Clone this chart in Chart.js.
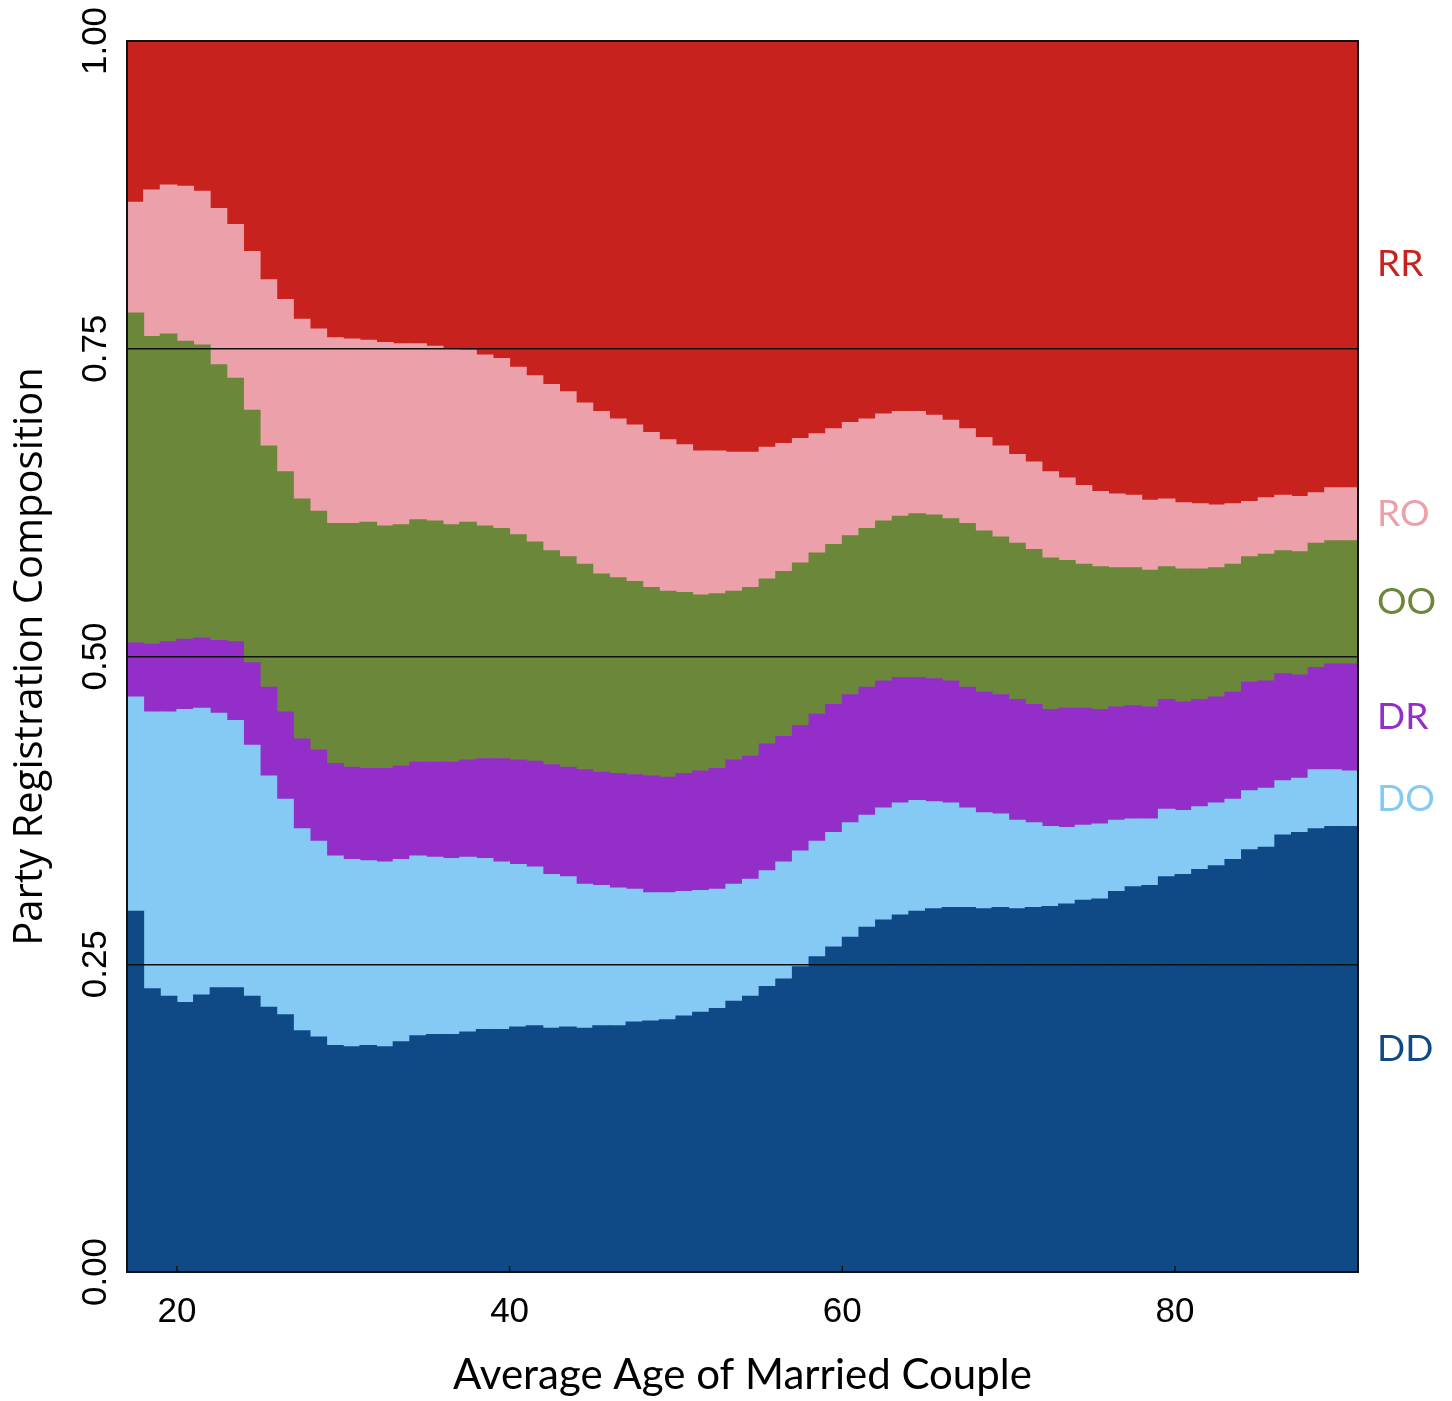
<!DOCTYPE html>
<html>
<head>
<meta charset="utf-8">
<script src="https://cdn.jsdelivr.net/npm/chart.js@4.4.1/dist/chart.umd.min.js"></script>
<style>
    html, body { margin: 0; padding: 0; background: #ffffff; }
    #wrap { width: 1452px; height: 1401px; }
</style>
</head>
<body>
<div id="wrap"><canvas id="compChart" width="1452" height="1401"></canvas></div>
<script>
// Party registration composition of married couples by average age

const ages = [
    17, 18, 19, 20, 21, 22, 23, 24, 25, 26, 27, 28, 29, 30, 31, 32, 33, 34, 35, 36,
    37, 38, 39, 40, 41, 42, 43, 44, 45, 46, 47, 48, 49, 50, 51, 52, 53, 54, 55, 56,
    57, 58, 59, 60, 61, 62, 63, 64, 65, 66, 67, 68, 69, 70, 71, 72, 73, 74, 75, 76,
    77, 78, 79, 80, 81, 82, 83, 84, 85, 86, 87, 88, 89, 90
];

const ddShare = [
    .293, .230, .224, .219, .225, .231, .231, .224, .215, .209,
    .196, .191, .184, .183, .184, .183, .187, .192, .193, .193,
    .195, .197, .197, .199, .200, .198, .199, .198, .200, .200,
    .203, .204, .205, .208, .211, .214, .220, .224, .232, .238,
    .248, .256, .264, .272, .280, .286, .290, .293, .295, .296,
    .296, .295, .296, .295, .296, .297, .299, .302, .303, .309,
    .313, .314, .321, .323, .327, .330, .335, .343, .345, .355,
    .357, .360, .362, .362
];

const doShare = [
    .174, .225, .231, .238, .233, .223, .217, .204, .188, .175,
    .164, .159, .154, .152, .150, .150, .148, .146, .144, .143,
    .142, .139, .136, .132, .129, .125, .122, .117, .114, .112,
    .108, .104, .103, .101, .099, .097, .095, .095, .094, .095,
    .094, .094, .093, .093, .091, .091, .091, .090, .087, .085,
    .081, .078, .076, .072, .069, .065, .062, .061, .061, .058,
    .055, .054, .055, .052, .051, .051, .049, .048, .048, .044,
    .044, .048, .046, .045
];

const drShare = [
    .044, .055, .057, .057, .057, .059, .064, .067, .072, .071,
    .073, .074, .075, .075, .075, .076, .076, .076, .077, .078,
    .079, .081, .084, .085, .086, .089, .089, .093, .092, .093,
    .093, .095, .094, .096, .097, .098, .101, .100, .103, .102,
    .102, .103, .104, .104, .104, .103, .102, .100, .100, .099,
    .098, .098, .097, .098, .096, .095, .097, .095, .093, .092,
    .092, .091, .089, .088, .087, .086, .087, .088, .087, .087,
    .084, .083, .086, .087
];

const ooShare = [
    .268, .250, .250, .242, .238, .224, .214, .205, .196, .195,
    .195, .194, .195, .198, .200, .197, .196, .197, .196, .193,
    .193, .189, .187, .183, .178, .174, .171, .167, .161, .159,
    .157, .153, .151, .147, .143, .142, .137, .137, .134, .134,
    .132, .131, .130, .129, .129, .130, .131, .133, .133, .132,
    .133, .131, .128, .127, .126, .123, .120, .117, .116, .113,
    .112, .111, .108, .108, .106, .105, .104, .102, .103, .100,
    .100, .101, .100, .100
];

const roShare = [
    .090, .119, .121, .126, .125, .127, .125, .129, .135, .140,
    .146, .148, .151, .150, .148, .149, .147, .143, .142, .143,
    .140, .139, .138, .136, .135, .135, .134, .131, .132, .129,
    .127, .126, .123, .120, .117, .116, .113, .110, .107, .104,
    .101, .097, .094, .092, .089, .087, .085, .083, .081, .080,
    .077, .076, .074, .072, .071, .070, .067, .064, .061, .060,
    .059, .057, .055, .054, .053, .051, .049, .045, .046, .045,
    .045, .041, .043, .043
];

const rrShare = [
    .131, .121, .117, .118, .122, .136, .149, .171, .194, .210,
    .226, .234, .241, .242, .243, .245, .246, .246, .248, .250,
    .251, .255, .258, .265, .272, .279, .285, .294, .301, .307,
    .312, .318, .324, .328, .333, .333, .334, .334, .330, .327,
    .323, .319, .315, .310, .307, .303, .301, .301, .304, .308,
    .315, .322, .329, .336, .342, .350, .355, .361, .366, .368,
    .369, .373, .372, .375, .376, .377, .376, .374, .371, .369,
    .370, .367, .363, .363
];

const seriesNames = ['DD', 'DO', 'DR', 'OO', 'RO', 'RR'];
const seriesValues = [ddShare, doShare, drShare, ooShare, roShare, rrShare];
const seriesColors = ['#0f4a87', '#85c9f5', '#932ec8', '#6b873a', '#eca0aa', '#c8221f'];

const xTicks = [20, 40, 60, 80];
const yTicks = [0, 0.25, 0.5, 0.75, 1];

// Frame, inner tick marks, rotated y labels and the series names on the right
const decorPlugin = {
    id: 'decor',
    afterDraw(chart) {
        const ctx = chart.ctx;
        const area = chart.chartArea;
        const xs = chart.scales.x;
        const ys = chart.scales.y;

        ctx.save();
        ctx.strokeStyle = '#111';
        ctx.lineWidth = 2;
        ctx.strokeRect(area.left, area.top, area.right - area.left, area.bottom - area.top);

        ctx.lineWidth = 1.5;
        xTicks.forEach(v => {
            const px = xs.getPixelForValue(v);
            ctx.beginPath();
            ctx.moveTo(px, area.bottom);
            ctx.lineTo(px, area.bottom - 6);
            ctx.stroke();
        });

        ctx.fillStyle = '#000';
        ctx.font = '35px "Liberation Sans", Arial, sans-serif';
        ctx.textAlign = 'center';
        ctx.textBaseline = 'middle';
        yTicks.forEach(v => {
            const py = ys.getPixelForValue(v);
            ctx.save();
            ctx.translate(96, py);
            ctx.rotate(-Math.PI / 2);
            ctx.fillText(v.toFixed(2), 0, 0);
            ctx.restore();
        });

        ctx.font = '37px Lato, sans-serif';
        ctx.textAlign = 'left';
        chart.data.datasets.forEach((ds, k) => {
            const meta = chart.getDatasetMeta(k);
            const bar = meta.data[meta.data.length - 1];
            ctx.fillStyle = seriesColors[k];
            ctx.fillText(ds.label, area.right + 19, (bar.y + bar.base) / 2);
        });
        ctx.restore();
    }
};

const datasets = seriesValues.map((vals, k) => ({
    label: seriesNames[k],
    data: ages.map((a, i) => ({ x: a + 0.5, y: vals[i] })),
    backgroundColor: seriesColors[k],
    borderWidth: 0,
    inflateAmount: 0.5,
    barPercentage: 1,
    categoryPercentage: 1
}));

new Chart(document.getElementById('compChart'), {
    type: 'bar',
    data: { datasets: datasets },
    options: {
        responsive: false,
        animation: false,
        layout: {
            padding: { top: 41, right: 94, bottom: 0, left: 0 }
        },
        plugins: {
            legend: { display: false },
            tooltip: { enabled: false }
        },
        scales: {
            x: {
                type: 'linear',
                stacked: true,
                offset: false,
                min: 17,
                max: 91,
                afterBuildTicks: scale => {
                    scale.ticks = xTicks.map(v => ({ value: v }));
                },
                afterFit: scale => {
                    scale.height = 129;
                },
                grid: { display: false, drawTicks: false },
                border: { display: false },
                ticks: {
                    color: '#000',
                    padding: 19,
                    maxRotation: 0,
                    autoSkip: false,
                    font: { family: '"Liberation Sans", Arial, sans-serif', size: 35 }
                },
                title: {
                    display: true,
                    text: 'Average Age of Married Couple',
                    color: '#000',
                    padding: 0,
                    font: { family: 'Lato, sans-serif', size: 42 }
                }
            },
            y: {
                stacked: true,
                min: 0,
                max: 1,
                afterFit: scale => {
                    scale.width = 127;
                },
                ticks: {
                    stepSize: 0.25,
                    display: false
                },
                grid: {
                    z: 1,
                    color: '#111',
                    lineWidth: 1.5,
                    drawTicks: false
                },
                border: { display: false },
                title: {
                    display: true,
                    text: 'Party Registration Composition',
                    color: '#000',
                    padding: { top: 7, bottom: 0 },
                    font: { family: '"Open Sans", sans-serif', size: 40 }
                }
            }
        }
    },
    plugins: [decorPlugin]
});
</script>
</body>
</html>
